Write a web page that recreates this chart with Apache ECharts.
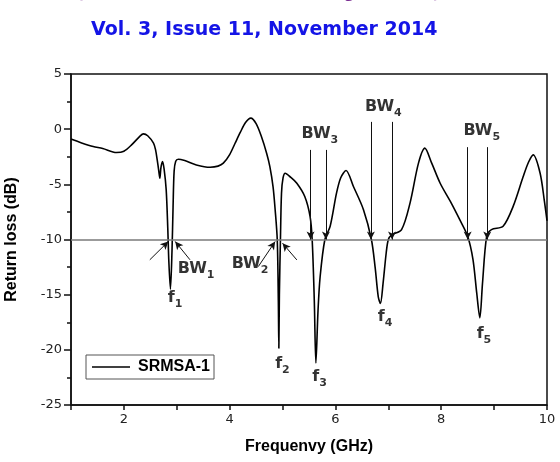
<!DOCTYPE html>
<html>
<head>
<meta charset="utf-8">
<script src="https://cdn.jsdelivr.net/npm/echarts@6/dist/echarts.min.js"></script>
<style>
  html, body { margin: 0; padding: 0; background: #fff; }
  #main { width: 560px; height: 462px; }
</style>
</head>
<body>
<div id="main"></div>
<script>
// frequency (GHz) and return loss (dB)
var freq = [1.0, 1.2, 1.42, 1.6, 1.86, 2.0, 2.15, 2.3, 2.37, 2.45, 2.56, 2.6, 2.63, 2.66, 2.68, 2.70, 2.73, 2.76,
    2.80, 2.83, 2.85, 2.88, 2.91, 2.93, 2.95, 2.98, 3.03, 3.15, 3.37, 3.63, 3.78, 3.88, 4.0, 4.1, 4.2, 4.3, 4.4,
    4.5, 4.6, 4.7, 4.76, 4.82, 4.86, 4.90, 4.92, 4.93, 4.94, 4.96, 4.98, 5.01, 5.05, 5.15, 5.27, 5.42, 5.52, 5.56,
    5.60, 5.63, 5.67, 5.71, 5.80, 5.90, 6.02, 6.1, 6.2, 6.34, 6.53, 6.68, 6.75, 6.81, 6.85, 6.90, 6.96, 7.0, 7.06,
    7.25, 7.41, 7.57, 7.69, 7.82, 7.98, 8.19, 8.35, 8.50, 8.6, 8.67, 8.73, 8.78, 8.86, 8.95, 9.17, 9.36, 9.55,
    9.65, 9.74, 9.87, 9.95, 10.0];
var returnLoss = [-0.9, -1.25, -1.58, -1.75, -2.12, -2.0, -1.4, -0.65, -0.43, -0.6, -1.27, -1.9, -2.78, -3.8, -4.45, -3.5, -2.93, -3.6,
    -5.5, -9.0, -12.0, -14.5, -11.0, -7.0, -3.8, -2.9, -2.72, -2.85, -3.24, -3.45, -3.35, -3.08, -2.3, -1.3, -0.3, 0.6, 1.0,
    0.5, -0.67, -2.2, -3.39, -5.2, -7.3, -10.04, -15.5, -19.85, -15.0, -10.0, -5.8, -4.4, -3.99, -4.35, -4.9, -6.1, -7.9, -10.0,
    -15.5, -21.2, -16.5, -13.4, -10.0, -8.8, -5.8, -4.4, -3.75, -5.2, -7.3, -10.0, -12.5, -15.2, -15.8, -14.0, -11.2, -10.0, -9.6,
    -9.1, -6.7, -3.08, -1.72, -3.08, -4.9, -6.7, -8.2, -9.7, -11.8, -14.8, -17.1, -14.0, -9.7, -9.1, -8.8, -7.0, -4.3,
    -3.0, -2.33, -3.99, -6.5, -8.3];

var xTicks = [2, 4, 6, 8, 10];
var yTicks = [-25, -20, -15, -10, -5, 0, 5];
var refLevel = -10;

// bandwidth arrows: [fromX, fromY, toX, toY]
var bwArrows = [
    [2.49, -11.84, 2.84, -10.18],
    [3.25, -11.84, 2.97, -10.18],
    [4.54, -12.46, 4.86, -10.19],
    [5.27, -11.85, 5.00, -10.34],
    [5.53, -1.88, 5.53, -10.0],
    [5.82, -1.88, 5.82, -10.0],
    [6.67, 0.66, 6.67, -10.0],
    [7.07, 0.66, 7.07, -10.0],
    [8.50, -1.63, 8.50, -10.0],
    [8.87, -1.63, 8.87, -10.0]
];

// annotation labels: [x, y, text, subscript]
var notes = [
    [3.02, -12.66, 'BW', '1'],
    [4.04, -12.21, 'BW', '2'],
    [5.36, -0.43, 'BW', '3'],
    [6.56, 2.02, 'BW', '4'],
    [8.42, -0.15, 'BW', '5'],
    [2.83, -15.29, 'f', '1'],
    [4.86, -21.28, 'f', '2'],
    [5.56, -22.46, 'f', '3'],
    [6.80, -17.02, 'f', '4'],
    [8.67, -18.55, 'f', '5']
];

var seriesName = 'SRMSA-1';

var lineData = freq.map(function (f, i) { return [f, returnLoss[i]]; });

var markLines = [{
    yAxis: refLevel,
    lineStyle: { color: '#7a7a7a', width: 1.5, type: 'solid' }
}];
bwArrows.forEach(function (a) {
    markLines.push([
        { coord: [a[0], a[1]], symbol: 'none' },
        { coord: [a[2], a[3]], symbol: 'arrow', symbolSize: [6, 8] }
    ]);
});

var chart = echarts.init(document.getElementById('main'));

chart.setOption({
    animation: false,
    backgroundColor: '#fff',
    title: [{
        text: 'Vol. 3, Issue 11, November 2014',
        left: 86,
        top: 16,
        textStyle: { color: '#1414e6', fontFamily: 'DejaVu Sans', fontWeight: 'bold', fontSize: 19 }
    }, {
        text: '(An ISO 3297: 2007 Certified Organization)',
        left: 72,
        top: -18,
        textStyle: { color: '#7b2f93', fontFamily: 'DejaVu Sans', fontWeight: 'bold', fontSize: 15 }
    }],
    legend: {
        left: 86,
        top: 355,
        data: [{ name: seriesName, icon: 'rect' }],
        padding: [4, 4, 4, 6],
        itemGap: 4,
        itemWidth: 38,
        itemHeight: 1.5,
        borderColor: '#555',
        borderWidth: 1,
        borderRadius: 0,
        textStyle: { fontFamily: 'Liberation Sans', fontWeight: 'bold', fontSize: 16, color: '#000', padding: [0, 0, 0, 3] }
    },
    grid: {
        left: 71,
        right: 13,
        top: 74,
        bottom: 57,
        outerBoundsMode: 'none',
        containLabel: false,
        show: true,
        borderColor: '#111',
        borderWidth: 1.5,
        backgroundColor: 'transparent'
    },
    xAxis: {
        type: 'value',
        min: 1,
        max: 10,
        interval: 1,
        name: 'Frequenvy (GHz)',
        nameLocation: 'middle',
        nameGap: 34,
        nameTextStyle: { fontFamily: 'Liberation Sans', fontWeight: 'bold', fontSize: 16, color: '#000' },
        axisLine: { onZero: false, lineStyle: { color: '#111', width: 1.5 } },
        axisTick: {
            inside: false, length: 5, lineStyle: { color: '#111', width: 1.5 },
            interval: function (i, v) { return v > 1; }
        },
        axisLabel: {
            color: '#222', fontFamily: 'DejaVu Sans', fontSize: 13, margin: 8,
            formatter: function (v) { return xTicks.indexOf(v) >= 0 ? String(v) : ''; }
        },
        splitLine: { show: false }
    },
    yAxis: {
        type: 'value',
        min: -25,
        max: 5,
        interval: 5,
        name: 'Return loss (dB)',
        nameLocation: 'middle',
        nameGap: 51,
        nameTextStyle: { fontFamily: 'Liberation Sans', fontWeight: 'bold', fontSize: 16, color: '#000' },
        axisLine: { onZero: false, lineStyle: { color: '#111', width: 1.5 } },
        axisTick: { inside: false, length: 7, lineStyle: { color: '#111', width: 1.5 } },
        minorTick: { show: true, splitNumber: 2, length: 4, lineStyle: { color: '#111', width: 1.5 } },
        axisLabel: {
            color: '#222', fontFamily: 'DejaVu Sans', fontSize: 13, margin: 9,
            formatter: function (v) { return yTicks.indexOf(v) >= 0 ? String(v) : ''; }
        },
        splitLine: { show: false }
    },
    series: [{
        name: seriesName,
        type: 'line',
        data: lineData,
        symbol: 'none',
        smooth: 0.3,
        lineStyle: { color: '#000', width: 1.6 },
        itemStyle: { color: '#000' },
        markLine: {
            silent: true,
            symbol: ['none', 'none'],
            label: { show: false },
            lineStyle: { color: '#111', width: 1, type: 'solid' },
            data: markLines
        }
    }, {
        type: 'scatter',
        data: notes,
        symbolSize: 0,
        silent: true,
        label: {
            show: true,
            position: 'right',
            distance: 0,
            formatter: function (p) { return '{m|' + p.data[2] + '}{s|' + p.data[3] + '}'; },
            rich: {
                m: { fontFamily: 'DejaVu Sans', fontWeight: 'bold', fontSize: 16, color: '#000' },
                s: { fontFamily: 'DejaVu Sans', fontWeight: 'bold', fontSize: 11, color: '#000', padding: [12, 0, 0, 0] }
            }
        }
    }]
});
</script>
</body>
</html>
